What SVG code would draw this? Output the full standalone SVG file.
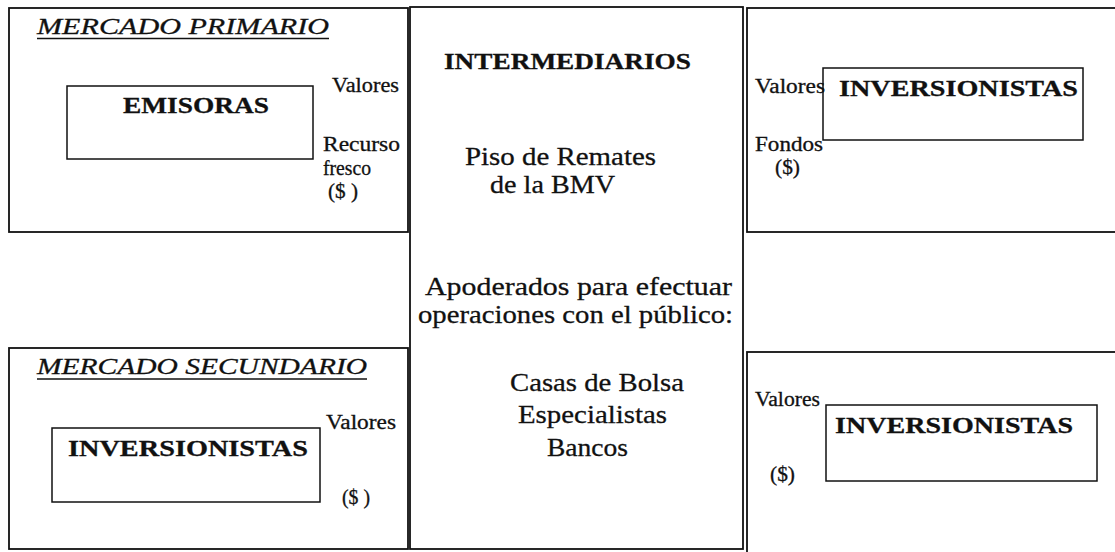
<svg xmlns="http://www.w3.org/2000/svg" width="1115" height="552" viewBox="0 0 1115 552">
<style>
.box{fill:none;stroke:#111;stroke-width:1.8}
.ibox{fill:none;stroke:#111;stroke-width:1.5}
text{font-family:"Liberation Serif","Times New Roman",serif;fill:#111;stroke:#111;stroke-width:0.3}
.ttl{font-size:23px;font-style:italic}
.hd{font-size:24px;font-weight:bold}
.lb{font-size:20px}
.bd{font-size:26px}
.ul{stroke:#111;stroke-width:1.4}
</style>
<rect width="1115" height="552" fill="#fff"/>
<g id="connectors"/>
<g id="mercado-primario">
<rect class="box" x="9" y="8" width="399" height="224"/>
<text class="ttl" x="37" y="34" textLength="292" lengthAdjust="spacingAndGlyphs">MERCADO PRIMARIO</text>
<line class="ul" x1="37" y1="38.5" x2="329" y2="38.5"/>
<text class="lb" x="332" y="92" textLength="67" lengthAdjust="spacingAndGlyphs">Valores</text>
<text class="lb" x="323" y="151" textLength="77" lengthAdjust="spacingAndGlyphs">Recurso</text>
<text class="lb" x="323" y="175" textLength="48" lengthAdjust="spacingAndGlyphs">fresco</text>
<text class="lb" x="328" y="198" textLength="30" lengthAdjust="spacingAndGlyphs">($ )</text>
</g>
<g id="emisoras">
<rect class="ibox" x="67" y="86" width="246" height="73"/>
<text class="hd" x="123" y="113" textLength="146" lengthAdjust="spacingAndGlyphs">EMISORAS</text>
</g>
<g id="intermediarios">
<rect class="box" x="410" y="7" width="333" height="542"/>
<text class="hd" x="444" y="69" textLength="247" lengthAdjust="spacingAndGlyphs">INTERMEDIARIOS</text>
<text class="bd" x="465" y="165" textLength="191" lengthAdjust="spacingAndGlyphs">Piso de Remates</text>
<text class="bd" x="490" y="193" textLength="125" lengthAdjust="spacingAndGlyphs">de la BMV</text>
<text class="bd" x="425" y="295" textLength="307" lengthAdjust="spacingAndGlyphs">Apoderados para efectuar</text>
<text class="bd" x="418" y="323" textLength="315" lengthAdjust="spacingAndGlyphs">operaciones con el público:</text>
<text class="bd" x="510" y="391" textLength="174" lengthAdjust="spacingAndGlyphs">Casas de Bolsa</text>
<text class="bd" x="518" y="423" textLength="149" lengthAdjust="spacingAndGlyphs">Especialistas</text>
<text class="bd" x="547" y="456" textLength="81" lengthAdjust="spacingAndGlyphs">Bancos</text>
</g>
<g id="primario-inversionistas">
<rect class="box" x="747" y="8" width="380" height="224"/>
<rect class="ibox" x="823" y="68" width="260" height="72"/>
<text class="hd" x="839" y="96" textLength="239" lengthAdjust="spacingAndGlyphs">INVERSIONISTAS</text>
<text class="lb" x="755" y="93" textLength="70" lengthAdjust="spacingAndGlyphs">Valores</text>
<text class="lb" x="755" y="151" textLength="68" lengthAdjust="spacingAndGlyphs">Fondos</text>
<text class="lb" x="775" y="174" textLength="25" lengthAdjust="spacingAndGlyphs">($)</text>
</g>
<g id="mercado-secundario">
<rect class="box" x="9" y="348" width="399" height="201"/>
<text class="ttl" x="37" y="374" textLength="330" lengthAdjust="spacingAndGlyphs">MERCADO SECUNDARIO</text>
<line class="ul" x1="37" y1="379" x2="367" y2="379"/>
<text class="lb" x="326" y="429" textLength="70" lengthAdjust="spacingAndGlyphs">Valores</text>
<text class="lb" x="342" y="504" textLength="28" lengthAdjust="spacingAndGlyphs">($ )</text>
</g>
<g id="secundario-inversionistas-a">
<rect class="ibox" x="52" y="428" width="268" height="74"/>
<text class="hd" x="68" y="456" textLength="240" lengthAdjust="spacingAndGlyphs">INVERSIONISTAS</text>
</g>
<g id="secundario-inversionistas-b">
<rect class="box" x="747" y="352" width="380" height="212"/>
<rect class="ibox" x="826" y="405" width="271" height="76"/>
<text class="hd" x="835" y="433" textLength="238" lengthAdjust="spacingAndGlyphs">INVERSIONISTAS</text>
<text class="lb" x="755" y="406" textLength="65" lengthAdjust="spacingAndGlyphs">Valores</text>
<text class="lb" x="770" y="481" textLength="25" lengthAdjust="spacingAndGlyphs">($)</text>
</g>
</svg>
